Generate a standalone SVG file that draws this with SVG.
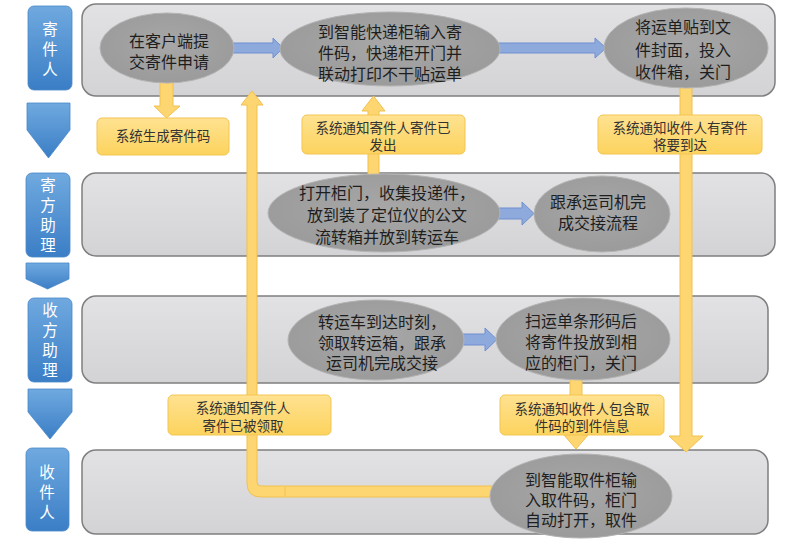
<svg xmlns="http://www.w3.org/2000/svg" width="799" height="542" viewBox="0 0 799 542">
<defs>
<linearGradient id="gLane" x1="0" y1="0" x2="0" y2="1"><stop offset="0" stop-color="#e2e2e4"/><stop offset="1" stop-color="#d3d3d5"/></linearGradient>
<linearGradient id="gBlue" x1="0" y1="0" x2="0" y2="1"><stop offset="0" stop-color="#6fa9df"/><stop offset="1" stop-color="#3b7ec6"/></linearGradient>
<linearGradient id="gNote" x1="0" y1="0" x2="0" y2="1"><stop offset="0" stop-color="#ffe291"/><stop offset="1" stop-color="#fcd35e"/></linearGradient>
<radialGradient id="gEll" cx="0.5" cy="0.45" r="0.6"><stop offset="0" stop-color="#a7a7a7"/><stop offset="1" stop-color="#9a9a9a"/></radialGradient>
<style>
.lane{fill:url(#gLane);stroke:#7f7f7f;stroke-width:1.5}
.lbl{fill:url(#gBlue);stroke:#4a88c8;stroke-width:0.8}
.lt{font-family:"Noto Sans CJK SC","Liberation Sans",sans-serif;font-size:15.5px;fill:#ffffff;text-anchor:middle}
.ell{fill:url(#gEll);stroke:#b3b3b3;stroke-width:1}
.et{font-family:"Noto Sans CJK SC","Liberation Sans",sans-serif;font-size:16px;fill:#1e1e1e;text-anchor:middle}
.note{fill:url(#gNote);stroke:#f3c553;stroke-width:1}
.nt{font-family:"Noto Sans CJK SC","Liberation Sans",sans-serif;font-size:13.5px;fill:#333333;text-anchor:middle}
.ya{fill:#fdd672;stroke:#f0c14f;stroke-width:1}
.ba{fill:#8eaadc;stroke:#6e8fd0;stroke-width:1}
</style>
</defs>
<rect width="799" height="542" fill="#ffffff"/>

<g id="lanes">
<rect class="lane" x="82" y="4" width="693" height="92" rx="14"/>
<rect class="lane" x="82" y="173" width="693" height="83" rx="14"/>
<rect class="lane" x="82" y="296" width="686" height="87" rx="14"/>
<rect class="lane" x="82" y="450" width="686" height="84" rx="14"/>
</g>

<g id="lane-labels">
<g id="lbl-sender">
<rect class="lbl" x="28" y="6" width="44" height="84" rx="6"/>
<text class="lt" x="50" y="35">寄</text><text class="lt" x="50" y="55">件</text><text class="lt" x="50" y="75">人</text>
</g>
<g id="lbl-sendassist">
<rect class="lbl" x="26" y="173" width="44" height="84" rx="6"/>
<text class="lt" x="48" y="191">寄</text><text class="lt" x="48" y="211">方</text><text class="lt" x="48" y="231">助</text><text class="lt" x="48" y="251">理</text>
</g>
<g id="lbl-recvassist">
<rect class="lbl" x="28" y="298" width="44" height="84" rx="6"/>
<text class="lt" x="50" y="316">收</text><text class="lt" x="50" y="336">方</text><text class="lt" x="50" y="356">助</text><text class="lt" x="50" y="376">理</text>
</g>
<g id="lbl-receiver">
<rect class="lbl" x="26" y="448" width="43" height="83" rx="6"/>
<text class="lt" x="47" y="478">收</text><text class="lt" x="47" y="498">件</text><text class="lt" x="47" y="518">人</text>
</g>
<g id="chevrons">
<polygon class="lbl" points="27,103 70,103 70,130 48.5,158 27,130"/>
<polygon class="lbl" points="26,263 69,263 69,279 47.5,289 26,279"/>
<polygon class="lbl" points="28,389 72,389 72,412 50,439 28,412"/>
</g>
</g>

<g id="connectors">
<polygon class="ya" points="160,80 173,80 173,106 180,106 166.5,118 154,106 160,106"/>
<polygon class="ya" points="368,180 379,180 379,111 385,111 373.5,96 362,111 368,111"/>
<polygon class="ya" points="680,85 692,85 692,436 703,436 686,452 669,436 680,436"/>
<polygon class="ya" points="570,376 582,376 582,435 588,435 576,449 564,435 570,435"/>
<path class="ya" d="M 500,486 L 261,486 Q 257,486 257,482 L 257,105 L 263,105 L 252,91 L 241,105 L 247,105 L 247,483 Q 247,497 261,497 L 500,497 Z"/>
<line x1="285" y1="486.5" x2="285" y2="496.5" stroke="#f0c14f" stroke-width="1"/>
<polygon class="ba" points="232,43 273,43 273,38 283,48 273,58 273,53 232,53"/>
<polygon class="ba" points="498,43 595,43 595,38 606,48 595,58 595,53 498,53"/>
<polygon class="ba" points="497,208 522,208 522,202 534,213.5 522,225 522,219 497,219"/>
<polygon class="ba" points="461,334 485,334 485,328 497,339.5 485,351 485,345 461,345"/>
</g>

<g id="n-submit">
<ellipse class="ell" cx="167" cy="48" rx="67" ry="35"/>
<text class="et" x="169" y="47">在客户端提</text><text class="et" x="169" y="68">交寄件申请</text>
</g>
<g id="n-cabinet">
<ellipse class="ell" cx="390" cy="49" rx="110" ry="37"/>
<text class="et" x="390" y="38">到智能快递柜输入寄</text><text class="et" x="390" y="59">件码，快递柜开门并</text><text class="et" x="390" y="80">联动打印不干贴运单</text>
</g>
<g id="n-stick">
<ellipse class="ell" cx="686" cy="48" rx="82" ry="40"/>
<text class="et" x="683" y="33">将运单贴到文</text><text class="et" x="683" y="56">件封面，投入</text><text class="et" x="683" y="78">收件箱，关门</text>
</g>
<g id="n-collect">
<ellipse class="ell" cx="384" cy="213" rx="116" ry="39"/>
<text class="et" x="387" y="199">打开柜门，收集投递件，</text><text class="et" x="387" y="221">放到装了定位仪的公文</text><text class="et" x="387" y="243">流转箱并放到转运车</text>
</g>
<g id="n-handover">
<ellipse class="ell" cx="602" cy="214" rx="68" ry="38"/>
<text class="et" x="598" y="208">跟承运司机完</text><text class="et" x="598" y="229">成交接流程</text>
</g>
<g id="n-arrive">
<ellipse class="ell" cx="376" cy="340" rx="88" ry="40"/>
<text class="et" x="382" y="328">转运车到达时刻，</text><text class="et" x="382" y="349">领取转运箱，跟承</text><text class="et" x="382" y="369">运司机完成交接</text>
</g>
<g id="n-scan">
<ellipse class="ell" cx="583" cy="339" rx="87" ry="41"/>
<text class="et" x="581" y="327">扫运单条形码后</text><text class="et" x="581" y="348">将寄件投放到相</text><text class="et" x="581" y="369">应的柜门，关门</text>
</g>
<g id="n-pickup">
<ellipse class="ell" cx="581" cy="496" rx="91" ry="42"/>
<text class="et" x="581" y="486">到智能取件柜输</text><text class="et" x="581" y="506">入取件码，柜门</text><text class="et" x="581" y="526">自动打开，取件</text>
</g>

<g id="note-code">
<rect class="note" x="97" y="118" width="132" height="37" rx="5"/>
<text class="nt" x="163" y="141">系统生成寄件码</text>
</g>
<g id="note-sent">
<rect class="note" x="302" y="115" width="163" height="39" rx="5"/>
<text class="nt" x="383" y="133">系统通知寄件人寄件已</text><text class="nt" x="383" y="150">发出</text>
</g>
<g id="note-coming">
<rect class="note" x="598" y="115" width="164" height="39" rx="5"/>
<text class="nt" x="680" y="133">系统通知收件人有寄件</text><text class="nt" x="680" y="150">将要到达</text>
</g>
<g id="note-picked">
<rect class="note" x="168" y="395" width="163" height="40" rx="5"/>
<text class="nt" x="243" y="413">系统通知寄件人</text><text class="nt" x="243" y="431">寄件已被领取</text>
</g>
<g id="note-arrived">
<rect class="note" x="500" y="395" width="164" height="40" rx="5"/>
<text class="nt" x="582" y="414">系统通知收件人包含取</text><text class="nt" x="582" y="431">件码的到件信息</text>
</g>
</svg>
